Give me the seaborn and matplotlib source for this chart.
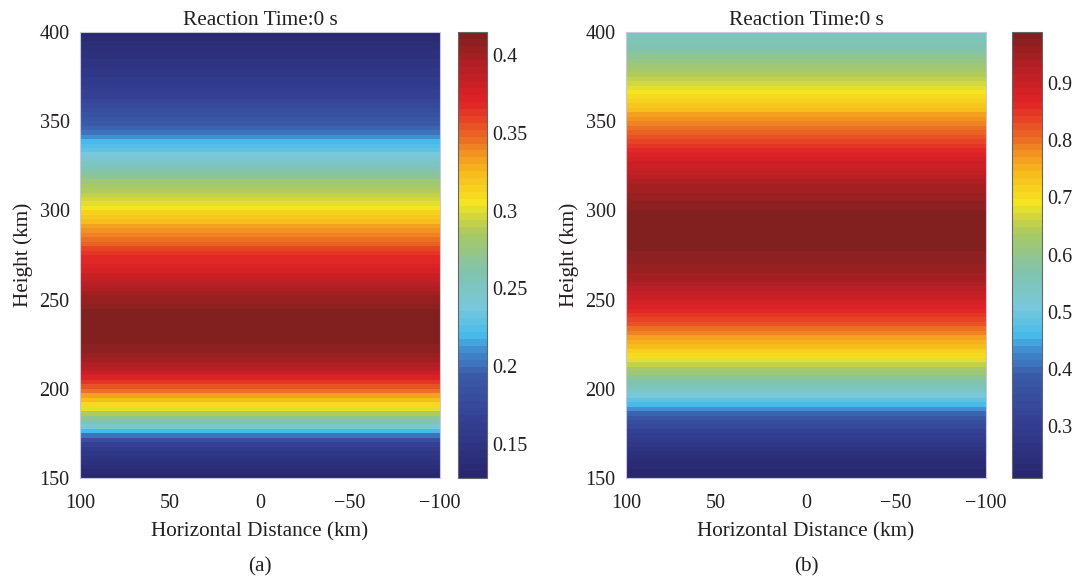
import numpy as np
import pandas as pd
import matplotlib
matplotlib.use("Agg")
import matplotlib.pyplot as plt
import seaborn as sns
from matplotlib.colors import LinearSegmentedColormap, ListedColormap

sns.set_theme(style="white")
plt.rcParams['font.family'] = ['Liberation Serif', 'DejaVu Serif']
plt.rcParams['axes.unicode_minus'] = True

# ---------------- data ----------------
# horizontal distance cell centres (km), 100 -> -100
distance = np.arange(98.75, -100, -2.5)
# height cell centres (km), 150 -> 400
heights = np.arange(151.25, 400, 2.5)

profile_a = [0.130, 0.134, 0.138, 0.142, 0.147, 0.153, 0.159, 0.167, 0.180, 0.200,
             0.222, 0.242, 0.256, 0.269, 0.285, 0.299, 0.310, 0.321, 0.332, 0.344,
             0.355, 0.365, 0.374, 0.382, 0.389, 0.395, 0.400, 0.404, 0.407, 0.409,
             0.411, 0.413, 0.414, 0.4145, 0.415, 0.4145, 0.4135, 0.412, 0.409, 0.406,
             0.402, 0.398, 0.394, 0.390, 0.385, 0.381, 0.377, 0.373, 0.370, 0.366,
             0.362, 0.357, 0.352, 0.347, 0.342, 0.337, 0.331, 0.325, 0.318, 0.312,
             0.307, 0.302, 0.297, 0.292, 0.287, 0.281, 0.276, 0.270, 0.263, 0.256,
             0.250, 0.244, 0.238, 0.231, 0.225, 0.218, 0.211, 0.204, 0.198, 0.192,
             0.187, 0.183, 0.179, 0.175, 0.171, 0.168, 0.165, 0.162, 0.159, 0.157,
             0.154, 0.152, 0.149, 0.147, 0.144, 0.142, 0.139, 0.137, 0.134, 0.132]

profile_b = [0.212, 0.218, 0.224, 0.231, 0.240, 0.250, 0.262, 0.275, 0.288, 0.302,
             0.318, 0.334, 0.352, 0.376, 0.404, 0.434, 0.462, 0.488, 0.512, 0.535,
             0.555, 0.575, 0.595, 0.615, 0.635, 0.656, 0.679, 0.700, 0.717, 0.734,
             0.752, 0.769, 0.786, 0.804, 0.821, 0.838, 0.853, 0.867, 0.879, 0.891,
             0.903, 0.915, 0.925, 0.934, 0.941, 0.949, 0.955, 0.961, 0.966, 0.971,
             0.975, 0.979, 0.982, 0.984, 0.986, 0.986, 0.986, 0.984, 0.982, 0.978,
             0.974, 0.969, 0.963, 0.957, 0.949, 0.941, 0.932, 0.923, 0.913, 0.903,
             0.893, 0.883, 0.872, 0.861, 0.849, 0.837, 0.824, 0.812, 0.799, 0.785,
             0.772, 0.758, 0.745, 0.731, 0.718, 0.705, 0.691, 0.678, 0.665, 0.651,
             0.638, 0.625, 0.614, 0.602, 0.591, 0.580, 0.570, 0.560, 0.551, 0.542]

ranges = [(0.128, 0.415), (0.21, 0.989)]
cbar_ticks = [[0.15, 0.2, 0.25, 0.3, 0.35, 0.4],
              [0.3, 0.4, 0.5, 0.6, 0.7, 0.8, 0.9]]
cbar_labels = [["0.15", "0.2", "0.25", "0.3", "0.35", "0.4"],
               ["0.3", "0.4", "0.5", "0.6", "0.7", "0.8", "0.9"]]
x_ticks = [100, 50, 0, -50, -100]
y_ticks = [400, 350, 300, 250, 200, 150]
title = "Reaction Time:0 s"
xlabel = "Horizontal Distance (km)"
ylabel = "Height (km)"
panel_tags = ["(a)", "(b)"]

# ---------------- colormap ----------------
anchors = [
    (0.00, "#29286f"),
    (0.12, "#343f93"),
    (0.22, "#3a5aa8"),
    (0.28, "#3f87cc"),
    (0.32, "#49bdec"),
    (0.38, "#78c7da"),
    (0.46, "#80c4ae"),
    (0.55, "#a9c862"),
    (0.62, "#f5e41f"),
    (0.69, "#f7b81d"),
    (0.77, "#ec6a24"),
    (0.85, "#e02226"),
    (0.93, "#b41f24"),
    (1.00, "#82201f"),
]
base = LinearSegmentedColormap.from_list("matjet", anchors)
cmap = ListedColormap(base(np.linspace(0, 1, 64)))

txt = "#231f20"
fig = plt.figure(figsize=(10.78, 5.82), dpi=100)
W, H = 1078, 582

def fx(px):
    return px / W

def fy(py):
    return 1 - py / H

layout = [
    dict(ax=(80, 440), cb=(458, 487)),
    dict(ax=(626, 986), cb=(1012, 1042)),
]
top, bot = 32, 478
TICK_FS = 14.5
LABEL_FS = 15.3

for i, (prof, lay) in enumerate(zip([profile_a, profile_b], layout)):
    ax = fig.add_axes([fx(lay["ax"][0]), fy(bot), fx(lay["ax"][1] - lay["ax"][0]), (bot - top) / H])
    cax = fig.add_axes([fx(lay["cb"][0]), fy(bot), fx(lay["cb"][1] - lay["cb"][0]), (bot - top) / H])
    grid = np.tile(np.asarray(prof)[::-1][:, None], (1, len(distance)))
    df = pd.DataFrame(grid, index=heights[::-1], columns=distance)
    vmin, vmax = ranges[i]
    sns.heatmap(df, ax=ax, cmap=cmap, vmin=vmin, vmax=vmax, cbar_ax=cax,
                xticklabels=False, yticklabels=False, rasterized=True)
    # tick positions in heatmap index space derived from the values
    step_x = distance[0] - distance[1]
    xpos = [(distance[0] + step_x / 2 - v) / step_x for v in x_ticks]
    step_y = heights[1] - heights[0]
    ypos = [(heights[-1] + step_y / 2 - v) / step_y for v in y_ticks]
    ax.set_xticks(xpos)
    ax.set_xticklabels([f"{v}".replace("-", "\u2212") for v in x_ticks])
    ax.set_yticks(ypos)
    ax.set_yticklabels([str(v) for v in y_ticks], rotation=0)
    ax.tick_params(axis="both", length=0, labelsize=TICK_FS, colors=txt)
    ax.tick_params(axis="y", pad=7.5)
    ax.tick_params(axis="x", pad=11.5)
    for s in ax.spines.values():
        s.set_visible(True)
        s.set_color("#c8c8dc")
        s.set_linewidth(0.8)
    ax.set_xlabel(xlabel, fontsize=LABEL_FS, color=txt, labelpad=7)
    ax.set_ylabel(ylabel, fontsize=LABEL_FS, color=txt, labelpad=5)
    ax.set_title(title, fontsize=LABEL_FS, color=txt, pad=5)

    cax.set_yticks(cbar_ticks[i])
    cax.set_yticklabels(cbar_labels[i])
    cax.tick_params(axis="y", direction="in", length=4, width=0.8, colors=txt,
                    labelsize=TICK_FS, pad=4, right=True, left=False, labelright=True)
    cax.yaxis.set_ticks_position("right")
    cbar = ax.collections[0].colorbar
    cbar.outline.set_edgecolor("#666666")
    cbar.outline.set_linewidth(0.8)

    cx = (lay["ax"][0] + lay["ax"][1]) / 2
    fig.text(fx(cx), fy(567), panel_tags[i], ha="center", va="center",
             fontsize=LABEL_FS, color=txt)

fig.savefig("out.png", dpi=100, facecolor="white")
